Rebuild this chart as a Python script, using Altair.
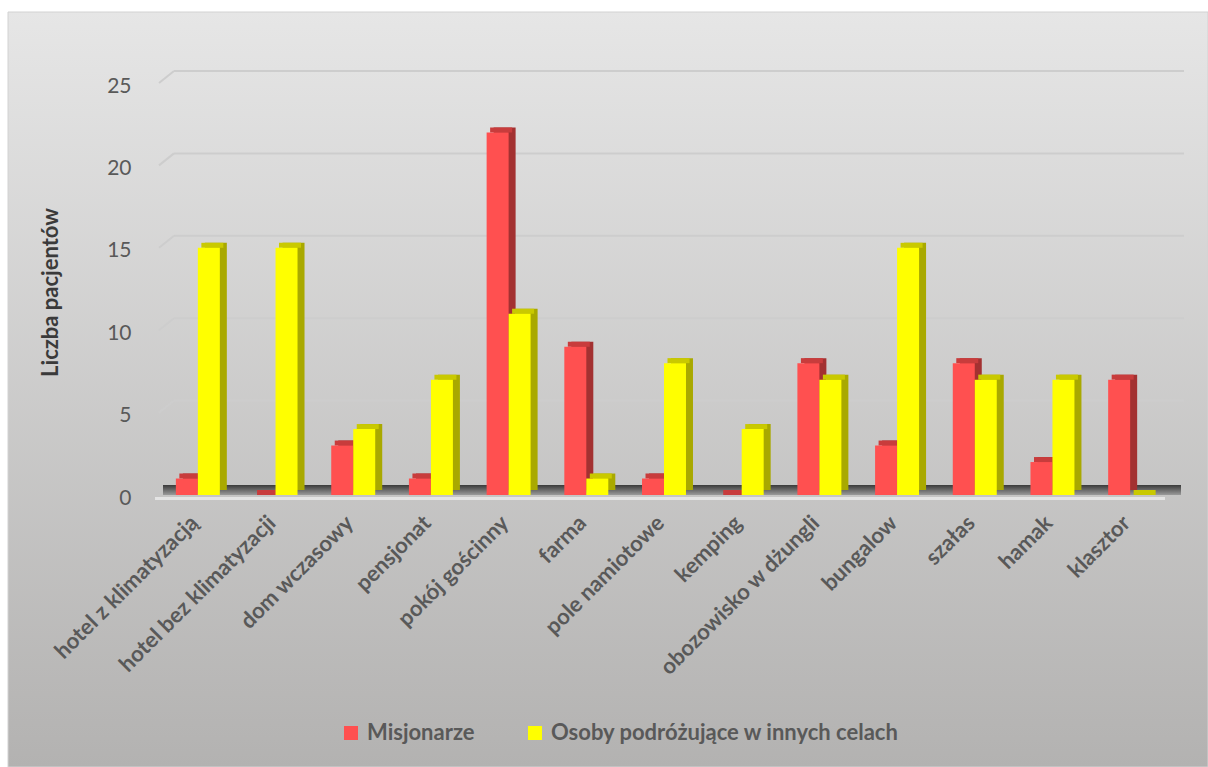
import json
import altair as alt
import pandas as pd

# Accommodation types and patient counts for the two traveller groups
categories = [
    "hotel z klimatyzacją", "hotel bez klimatyzacji", "dom wczasowy", "pensjonat",
    "pokój gościnny", "farma", "pole namiotowe", "kemping", "obozowisko w dżungli",
    "bungalow", "szałas", "hamak", "klasztor",
]
misjonarze = [1, 0, 3, 1, 22, 9, 1, 0, 8, 3, 8, 2, 7]
inne_cele = [15, 15, 4, 7, 11, 1, 8, 4, 7, 15, 7, 7, 0]
series_names = ["Misjonarze", "Osoby podróżujące w innych celach"]
y_ticks = [0, 5, 10, 15, 20, 25]

# Face colours of the pseudo-3D columns: front, side, top
FRONT = ["#ff5050", "#ffff00"]
SIDE = ["#a33131", "#a9a900"]
TOP = ["#c83c3c", "#c9c900"]

FONT = "Lato"
GREY = "#595959"
BAR_W = 0.283          # column width in category units
DX, DY = 7, 5          # depth of the 3D extrusion in pixels
W, H = 1010, 412
PAD = {"left": 159, "right": 39, "top": 83, "bottom": 272}

rows = []
for s, vals in enumerate([misjonarze, inne_cele]):
    for i, v in enumerate(vals):
        x0 = i - BAR_W if s == 0 else i
        rows.append({
            "idx": i, "series": series_names[s], "value": v, "zero": 0,
            "x0": x0, "x1": x0 + BAR_W,
            "side": SIDE[s], "top": TOP[s],
        })
bars = pd.DataFrame(rows)

x_dom = [-0.5, len(categories) - 0.5]
xs = alt.Scale(domain=x_dom, nice=False, zero=False)
ys = alt.Scale(domain=[0, 25], nice=False, zero=True)

label_expr = json.dumps(categories, ensure_ascii=False) + "[datum.value]"

# One shared definition of each axis, repeated in every layer so they merge;
# zindex puts the axis text above the gradient background
x_axis = alt.Axis(
    values=list(range(len(categories))), labelExpr=label_expr, title=None,
    domain=False, ticks=False, grid=False, labelAngle=-45, labelAlign="right",
    labelBaseline="middle", labelPadding=24, labelOffset=-4, labelFlush=False,
    labelOverlap=False, labelFont=FONT, labelFontSize=22, labelFontWeight="bold",
    labelColor=GREY, labelLimit=400, zindex=2)
y_axis = alt.Axis(
    values=y_ticks, title="Liczba pacjentów", domain=False, ticks=False,
    grid=False, labelPadding=28, labelOffset=3, labelFont=FONT, labelFontSize=21,
    labelColor=GREY, titleFont=FONT, titleFontSize=22, titleFontWeight="bold",
    titleColor="#3a3a3a", titleAngle=-90, titleX=-109, titleY=H / 2 + 3,
    titleAlign="center", titleBaseline="middle", zindex=2)


def xd(v):
    return alt.X(datum=v, type="quantitative", scale=xs, axis=x_axis)


def yd(v):
    return alt.Y(datum=v, type="quantitative", scale=ys, axis=y_axis)


# Chart-area background with a vertical grey gradient
bg = alt.Chart(pd.DataFrame({"a": [0]})).mark_rect(
    fill=alt.LinearGradient(
        gradient="linear",
        stops=[alt.GradientStop(color="#e6e6e6", offset=0),
               alt.GradientStop(color="#b3b2b1", offset=1)],
        x1=0, x2=0, y1=0, y2=1),
    stroke="#d2d2d2", strokeWidth=1,
).encode(
    x=alt.value(8 - PAD["left"]), x2=alt.value(1208 - PAD["left"]),
    y=alt.value(12 - PAD["top"]), y2=alt.value(767 - PAD["top"]),
)

grid_df = pd.DataFrame({"v": y_ticks[1:]})
# Gridlines on the back wall
grid_back = alt.Chart(grid_df).mark_rule(
    color="#cdcdcd", strokeWidth=2, xOffset=15, x2Offset=15, yOffset=-12, y2Offset=-12,
).encode(
    x=xd(x_dom[0]), x2=alt.X2(datum=x_dom[1]),
    y=alt.Y("v:Q", scale=ys, axis=y_axis),
)
# Short slanted pieces on the side wall
grid_side = alt.Chart(grid_df).mark_rule(
    color="#cdcdcd", strokeWidth=2, x2Offset=15, y2Offset=-12,
).encode(
    x=xd(x_dom[0]), x2=alt.X2(datum=x_dom[0]),
    y=alt.Y("v:Q", scale=ys, axis=y_axis), y2="v:Q",
)

# Floor of the 3D plot: dark top surface and light front edge
floor_top = alt.Chart(pd.DataFrame({"a": [0]})).mark_rect(
    fill=alt.LinearGradient(
        gradient="linear",
        stops=[alt.GradientStop(color="#3a3a3a", offset=0),
               alt.GradientStop(color="#9a9a9a", offset=1)],
        x1=0, x2=0, y1=0, y2=1),
    xOffset=4, x2Offset=12, yOffset=-10, y2Offset=0,
).encode(x=xd(x_dom[0]), x2=alt.X2(datum=x_dom[1]), y=yd(0), y2=alt.Y2(datum=0))

floor_edge = alt.Chart(pd.DataFrame({"a": [0]})).mark_rect(
    fill="#e4e4e4", xOffset=-4, x2Offset=-4, yOffset=2, y2Offset=5,
).encode(x=xd(x_dom[0]), x2=alt.X2(datum=x_dom[1]), y=yd(0), y2=alt.Y2(datum=0))

base = alt.Chart(bars)

sides = base.mark_rect(xOffset=DX, x2Offset=DX, yOffset=-DY, y2Offset=-DY).encode(
    x=alt.X("x0:Q", scale=xs, axis=x_axis), x2="x1:Q",
    y=alt.Y("value:Q", scale=ys, axis=y_axis), y2="zero:Q",
    fill=alt.Fill("side:N", scale=None),
)

tops = base.mark_rect(xOffset=DX / 2, x2Offset=DX / 2, yOffset=-DY, y2Offset=0).encode(
    x=alt.X("x0:Q", scale=xs, axis=x_axis), x2="x1:Q",
    y=alt.Y("value:Q", scale=ys, axis=y_axis), y2="value:Q",
    fill=alt.Fill("top:N", scale=None),
)

fronts = base.mark_rect().encode(
    x=alt.X("x0:Q", scale=xs, axis=x_axis), x2="x1:Q",
    y=alt.Y("value:Q", scale=ys, axis=y_axis), y2="zero:Q",
    color=alt.Color("series:N", scale=alt.Scale(domain=series_names, range=FRONT),
                    legend=alt.Legend(
                        orient="none", legendX=181, legendY=639, direction="horizontal",
                        title=None, symbolType="square", symbolSize=196,
                        symbolStrokeWidth=0, labelFont=FONT, labelFontSize=22,
                        labelFontWeight="bold", labelColor=GREY, labelOffset=5,
                        columnPadding=49, labelLimit=500)),
)

chart = alt.layer(
    bg, grid_back, grid_side, floor_top, sides, tops, fronts, floor_edge,
).properties(
    width=W, height=H,
    autosize=alt.AutoSizeParams(type="none"),
    padding=PAD,
    background="white",
).configure_view(stroke=None)

chart.save("out.html", embed_options={"renderer": "svg", "actions": False})
